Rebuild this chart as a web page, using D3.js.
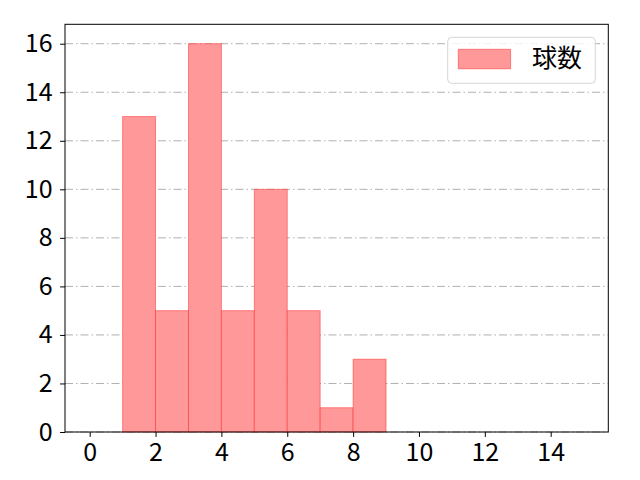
<!DOCTYPE html>
<html>
<head>
<meta charset="utf-8">
<script src="https://cdn.jsdelivr.net/npm/d3@7"></script>
<style>
  body { margin: 0; background: #fff; }
  svg text { font-family: "Noto Sans CJK JP", "Noto Sans", sans-serif; }
</style>
</head>
<body>
<div id="chart"></div>
<script>
// histogram bins (left edges) and counts
var binStarts = [0, 1, 2, 3, 4, 5, 6, 7, 8, 9, 10, 11, 12, 13, 14];
var counts = [0, 13, 5, 16, 5, 10, 5, 1, 3, 0, 0, 0, 0, 0, 0];
var xTicks = [0, 2, 4, 6, 8, 10, 12, 14];
var yTicks = [0, 2, 4, 6, 8, 10, 12, 14, 16];
var seriesName = "球数";

var width = 640, height = 480;
// plot area edges (note: "top" is reserved on window)
var plotLeft = 65, plotRight = 608.3, plotTop = 24.3, plotBottom = 432;

var svg = d3.select("#chart").append("svg")
    .attr("width", width)
    .attr("height", height);

var x = d3.scaleLinear()
    .domain([-0.75, 15.75])
    .range([plotLeft, plotRight]);

var y = d3.scaleLinear()
    .domain([0, 16.8])
    .range([plotBottom, plotTop]);

// grid lines (y only)
svg.append("g")
    .attr("class", "grid")
    .selectAll("line")
    .data(yTicks)
    .enter().append("line")
    .attr("x1", plotLeft)
    .attr("x2", plotRight)
    .attr("y1", function(d) { return y(d) })
    .attr("y2", function(d) { return y(d) })
    .attr("stroke", "#b0b0b0")
    .attr("stroke-width", 1)
    .attr("stroke-dasharray", "8,3,1.5,3");

// bars
var bins = binStarts.map(function(b, i) { return { x0: b, x1: b + 1, n: counts[i] } });

svg.append("g")
    .selectAll("rect")
    .data(bins)
    .enter().append("rect")
    .attr("x", function(d) { return x(d.x0) })
    .attr("y", function(d) { return y(d.n) })
    .attr("width", function(d) { return x(d.x1) - x(d.x0) })
    .attr("height", function(d) { return y(0) - y(d.n) })
    .attr("fill", "rgb(255,153,153)")
    .attr("stroke", "rgba(255,0,0,0.4)")
    .attr("stroke-width", 1);

// axes
var xAxis = svg.append("g")
    .attr("transform", "translate(0," + plotBottom + ")")
    .call(d3.axisBottom(x).tickValues(xTicks).tickSize(4.9).tickPadding(6).tickFormat(d3.format("d")));

var yAxis = svg.append("g")
    .attr("transform", "translate(" + plotLeft + ",0)")
    .call(d3.axisLeft(y).tickValues(yTicks).tickSize(4.9).tickPadding(7.5).tickFormat(d3.format("d")));

[xAxis, yAxis].forEach(function(a) {
    a.select(".domain").remove();
    a.selectAll("line").attr("stroke", "#000").attr("stroke-width", 1);
    a.selectAll("text").attr("fill", "#000").style("font-size", "25px");
});

// frame
svg.append("rect")
    .attr("x", plotLeft)
    .attr("y", plotTop)
    .attr("width", plotRight - plotLeft)
    .attr("height", plotBottom - plotTop)
    .attr("fill", "none")
    .attr("stroke", "#000")
    .attr("stroke-width", 1);

// legend
var legend = svg.append("g");
legend.append("rect")
    .attr("x", 447.7)
    .attr("y", 37.3)
    .attr("width", 147.6)
    .attr("height", 46)
    .attr("rx", 4)
    .attr("fill", "rgba(255,255,255,0.8)")
    .attr("stroke", "#d5d5d5")
    .attr("stroke-width", 1);
legend.append("rect")
    .attr("x", 458.3)
    .attr("y", 49.3)
    .attr("width", 52.3)
    .attr("height", 19.5)
    .attr("fill", "rgb(255,153,153)")
    .attr("stroke", "rgba(255,0,0,0.4)");
legend.append("text")
    .attr("x", 532)
    .attr("y", 67)
    .style("font-size", "25px")
    .text(seriesName);
</script>
</body>
</html>
